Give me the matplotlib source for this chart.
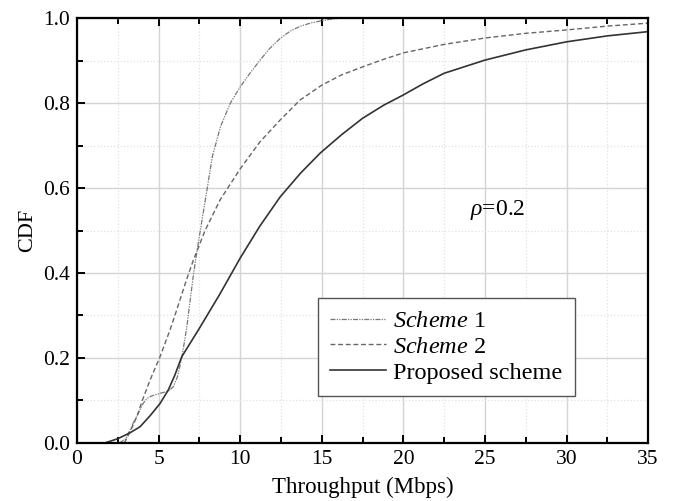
import matplotlib.pyplot as plt
from matplotlib.ticker import MultipleLocator

plt.rcParams['font.family'] = 'Liberation Serif'
plt.rcParams['mathtext.fontset'] = 'custom'
plt.rcParams['mathtext.rm'] = 'Liberation Serif'
plt.rcParams['mathtext.it'] = 'Liberation Serif:italic'

# Scheme 1 (dash-dot-dot)
x_s1 = [2.6, 3.0, 3.45, 4.07, 4.3, 4.6, 5.1, 5.6, 5.9, 6.15, 6.42, 6.72, 6.95, 7.15, 7.35, 7.6, 7.9,
        8.3, 8.8, 9.4, 10.0, 10.6, 11.2, 11.8, 12.45, 13.1, 13.7, 14.3, 14.9, 15.5, 16.0]
y_s1 = [0.0, 0.01, 0.047, 0.094, 0.105, 0.111, 0.117, 0.122, 0.132, 0.155, 0.2, 0.27, 0.34, 0.40, 0.45, 0.51, 0.58,
        0.675, 0.745, 0.80, 0.838, 0.87, 0.90, 0.928, 0.952, 0.97, 0.981, 0.988, 0.993, 0.997, 0.999]

# Scheme 2 (dashed)
x_s2 = [2.9, 3.3, 3.7, 4.0, 4.5, 5.09, 5.7, 6.0, 6.72, 7.13, 7.85, 8.77, 10.0, 11.2, 12.45, 13.67, 15.0,
        16.2, 17.5, 18.8, 20.0, 22.5, 25.0, 27.5, 30.0, 32.5, 35.0]
y_s2 = [0.0, 0.03, 0.065, 0.1, 0.15, 0.203, 0.266, 0.30, 0.385, 0.43, 0.50, 0.572, 0.645, 0.708, 0.76, 0.807, 0.842,
        0.866, 0.885, 0.903, 0.918, 0.938, 0.953, 0.964, 0.972, 0.981, 0.988]

# Proposed scheme (solid)
x_p = [1.7, 2.5, 3.25, 3.86, 4.5, 5.09, 5.6, 6.0, 6.42, 7.44, 8.75, 10.0, 11.2, 12.45, 13.7, 14.9, 16.2,
       17.5, 18.8, 20.0, 21.2, 22.5, 25.0, 27.5, 30.0, 32.5, 35.0]
y_p = [0.0, 0.01, 0.024, 0.038, 0.065, 0.093, 0.125, 0.16, 0.203, 0.266, 0.35, 0.435, 0.51, 0.579, 0.635, 0.682, 0.725,
       0.764, 0.795, 0.819, 0.845, 0.87, 0.901, 0.925, 0.944, 0.958, 0.968]

fig = plt.figure(figsize=(6.73, 5.01), dpi=100)
ax = fig.add_axes([0.1144, 0.1158, 0.8486, 0.8482])

ax.plot(x_s1, y_s1, color='#777777', lw=0.9, dashes=(4, 1, 1, 1, 1, 1), label=r'$\it{Scheme}$ 1')
ax.plot(x_s2, y_s2, color='#666666', lw=1.0, dashes=(3.5, 2), label=r'$\it{Scheme}$ 2')
ax.plot(x_p, y_p, color='#333333', lw=1.2, label='Proposed scheme')

ax.set_xlim(0, 35)
ax.set_ylim(0, 1.0)
ax.xaxis.set_major_locator(MultipleLocator(5))
ax.xaxis.set_minor_locator(MultipleLocator(2.5))
ax.yaxis.set_major_locator(MultipleLocator(0.2))
ax.yaxis.set_minor_locator(MultipleLocator(0.1))
ax.yaxis.set_major_formatter(plt.FuncFormatter(lambda v, p: '%.1f' % v))

ax.grid(which='major', color='#d4d4d4', lw=1.0, ls='-')
ax.grid(which='minor', color='#e2e2e2', lw=0.9, ls=':')
ax.set_axisbelow(True)

for s in ax.spines.values():
    s.set_linewidth(1.6)
ax.tick_params(which='both', direction='in', top=True, right=False, labelsize=15.5, width=1.4)
ax.tick_params(which='major', length=6, pad=5)
ax.tick_params(which='minor', length=4)

ax.set_xlabel('Throughput (Mbps)', fontsize=16.5, labelpad=6)
ax.set_ylabel('CDF', fontsize=16, labelpad=4)

ax.text(25.8, 0.548, r'$\rho$=0.2', fontsize=17, ha='center', va='center')

leg = ax.legend(loc='lower left', bbox_to_anchor=(0.422, 0.111), fontsize=17.5, handlelength=2.3,
                handletextpad=0.3, fancybox=False, framealpha=1, edgecolor='#555555',
                borderpad=0.5, labelspacing=0.15, borderaxespad=0)
leg.get_frame().set_linewidth(1.0)

fig.savefig('out.png', dpi=100)
